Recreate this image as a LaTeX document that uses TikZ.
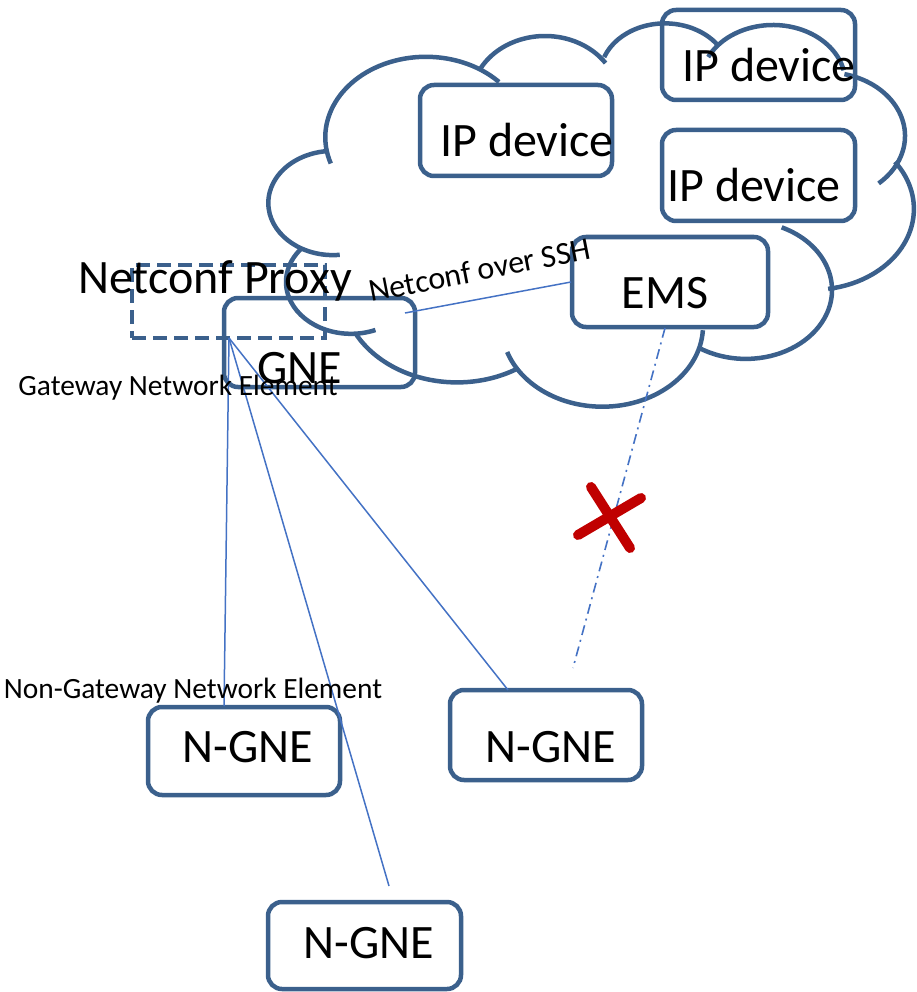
\documentclass[tikz,border=0pt]{standalone}
\usepackage{fontspec}
\setmainfont{Carlito}
\definecolor{boxblue}{RGB}{59,96,140}
\definecolor{linkblue}{RGB}{68,114,196}
\definecolor{xred}{RGB}{192,0,0}
\newcommand\cloudarc[6]{\draw[cloudline] (#1,#2) ++(#5:#3 and #4) arc[start angle=#5,end angle=#6,x radius=#3,y radius=#4];}
\begin{document}
\begin{tikzpicture}[x=1pt,y=-1pt,
  cloudline/.style={draw=boxblue,line width=4.5pt},
  box/.style={draw=boxblue,line width=4.5pt,rounded corners=14pt,inner sep=0pt},
  proxybox/.style={draw=boxblue,line width=4pt,dash pattern=on 14pt off 7pt,inner sep=0pt},
  link/.style={draw=linkblue,line width=1.5pt},
  dashdotlink/.style={draw=linkblue,line width=1.6pt,dash pattern=on 10pt off 5pt on 2pt off 5pt},
  cross/.style={draw=xred,line width=10pt,line cap=round},
  big/.style={inner sep=0pt,anchor=base,font=\fontsize{48}{52}\selectfont},
  small/.style={inner sep=0pt,anchor=base,font=\fontsize{29.4}{32}\selectfont}]
\useasboundingbox (0,0) rectangle (917,992);

% cloud
\cloudarc{425.9}{137.3}{100.6}{80.5}{161}{316.6}
\cloudarc{545}{99.7}{74}{63.7}{209.6}{324.9}
\cloudarc{665}{75.5}{65}{52.1}{200.7}{325.6}
\cloudarc{773}{82.8}{72.4}{57.8}{206.4}{347.5}
\cloudarc{825.6}{136}{79.4}{63.7}{-76.3}{48.1}
\cloudarc{813}{209}{100.9}{80.8}{-35.7}{81.4}
\cloudarc{745.8}{290}{86.2}{68.9}{-65.4}{121.4}
\cloudarc{602.4}{326}{100.6}{80.7}{3}{161.2}
\cloudarc{457}{290}{115}{92.4}{58}{152}
\cloudarc{351}{282}{65}{51.8}{67.9}{220.7}
\cloudarc{333}{203}{64.7}{52.1}{84}{265.5}

% boxes
\node[box,minimum width=192pt,minimum height=91pt] (ip1) at (516,130.5) {};
\node[box,minimum width=193pt,minimum height=90pt] (ip2) at (758.5,55) {};
\node[box,minimum width=193pt,minimum height=91pt] (ip3) at (758.5,175.5) {};
\node[box,minimum width=196pt,minimum height=90pt] (ems) at (670,282) {};
\node[box,minimum width=191pt,minimum height=89pt] (gne) at (319.5,342.5) {};
\node[proxybox,minimum width=193pt,minimum height=73pt] (proxy) at (228.5,301.5) {};
\node[box,minimum width=192pt,minimum height=88pt] (ngne1) at (244,751) {};
\node[box,minimum width=192pt,minimum height=90pt] (ngne2) at (546,735) {};
\node[box,minimum width=193pt,minimum height=87pt] (ngne3) at (364.5,945.5) {};

% connector end points
\coordinate (hub) at (229,338);
\coordinate (end1) at (224,706);
\coordinate (end2) at (389,886);
\coordinate (end3) at (508,690);
\coordinate (sshA) at (405,313);
\coordinate (sshB) at (571,282);
\coordinate (ddA) at (665,328);
\coordinate (ddB) at (573,668);
\coordinate (xa1) at (591,487);
\coordinate (xa2) at (630,548);
\coordinate (xb1) at (578,535);
\coordinate (xb2) at (641,498);

% connectors
\draw[link] (hub) -- (end1);
\draw[link] (hub) -- (end2);
\draw[link] (hub) -- (end3);
\draw[link] (sshA) -- (sshB);
\draw[dashdotlink] (ddA) -- (ddB);
\draw[cross] (xa1) -- (xa2);
\draw[cross] (xb1) -- (xb2);

% texts
\node[big] (tip1) at (527,157) {IP device};
\node[big] (tip2) at (769,82) {IP device};
\node[big] (tip3) at (754,202) {IP device};
\node[big] (tems) at (665,308) {EMS};
\node[big] (tproxy) at (215,293) {Netconf Proxy};
\node[big] (tgne) at (300,383) {GNE};
\node[small] (tgw) at (178,395) {Gateway Network Element};
\node[small] (tngw) at (193,698) {Non-Gateway Network Element};
\node[big] (tn1) at (248,762) {N-GNE};
\node[big] (tn2) at (551,762) {N-GNE};
\node[big] (tn3) at (369,958) {N-GNE};
\node[inner sep=0pt,anchor=base west,rotate=11,font=\fontsize{32}{35}\selectfont] (tssh) at (371,302) {Netconf over SSH};
\end{tikzpicture}
\end{document}
